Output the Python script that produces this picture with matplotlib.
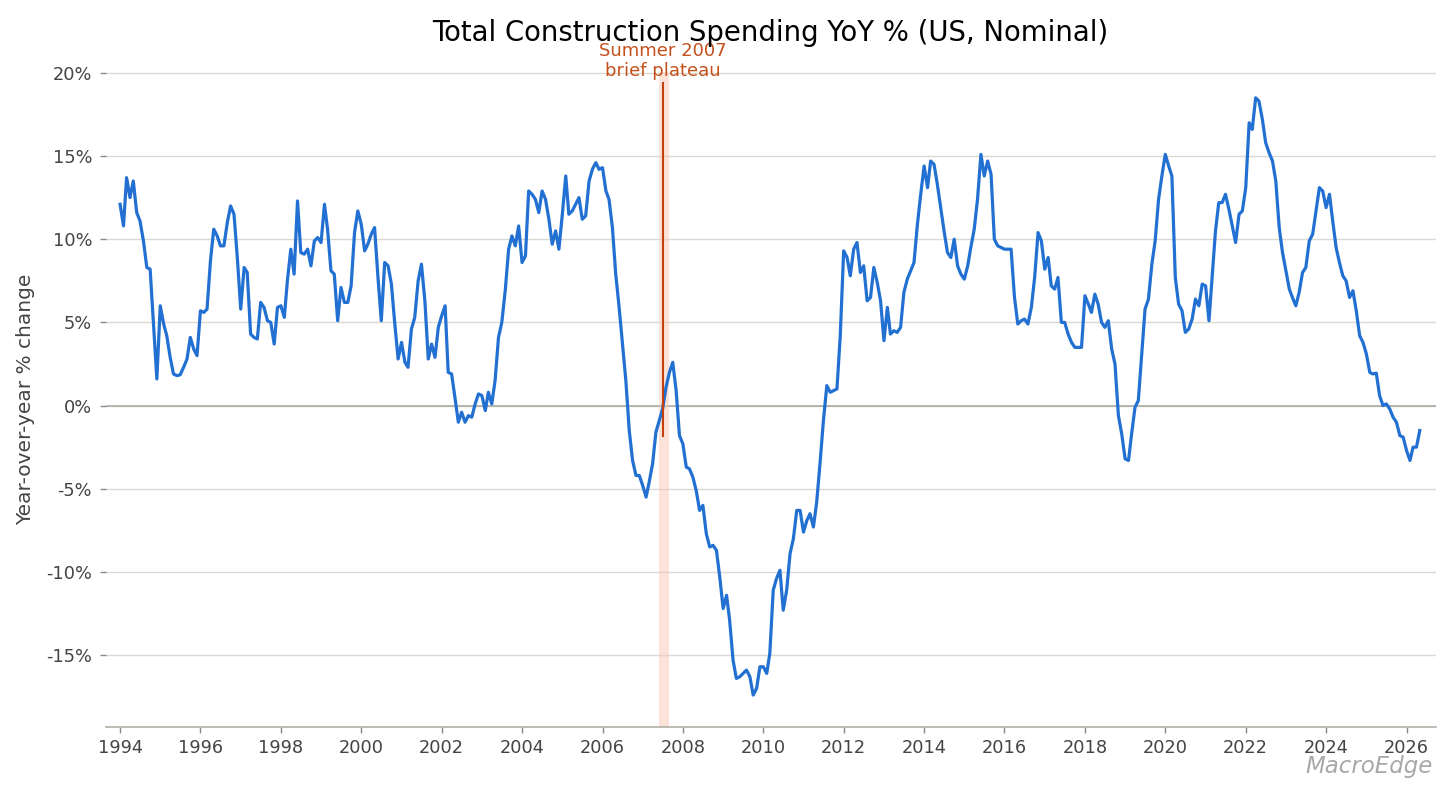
import pandas as pd
import matplotlib
matplotlib.use("Agg")
import matplotlib.pyplot as plt
from matplotlib.ticker import FuncFormatter

# monthly YoY % change, Jan 1994 .. May 2026
yoy_pct = [
    12.1, 10.8, 13.7, 12.5, 13.5, 11.6, 11.1, 9.9, 8.3, 8.2, 4.8, 1.6,        # 1994
    6.0, 4.9, 4.2, 2.9, 1.9, 1.8, 1.85, 2.3, 2.8, 4.1, 3.4, 3.0,              # 1995
    5.7, 5.6, 5.8, 8.7, 10.6, 10.2, 9.6, 9.6, 11.0, 12.0, 11.5, 8.9,          # 1996
    5.8, 8.3, 8.0, 4.3, 4.1, 4.0, 6.2, 5.9, 5.1, 5.0, 3.7, 5.9,               # 1997
    6.0, 5.3, 7.5, 9.4, 7.9, 12.3, 9.2, 9.1, 9.4, 8.4, 9.9, 10.1,             # 1998
    9.8, 12.1, 10.6, 8.1, 7.9, 5.1, 7.1, 6.2, 6.2, 7.2, 10.4, 11.7,           # 1999
    10.9, 9.3, 9.7, 10.3, 10.7, 7.7, 5.1, 8.6, 8.4, 7.3, 4.9, 2.8,            # 2000
    3.8, 2.6, 2.3, 4.6, 5.3, 7.5, 8.5, 6.3, 2.8, 3.7, 2.9, 4.7,               # 2001
    5.4, 6.0, 2.0, 1.9, 0.5, -1.0, -0.4, -1.0, -0.6, -0.7, 0.1, 0.7,          # 2002
    0.6, -0.3, 0.8, 0.1, 1.5, 4.1, 5.0, 6.9, 9.4, 10.2, 9.6, 10.8,            # 2003
    8.6, 9.0, 12.9, 12.7, 12.4, 11.6, 12.9, 12.4, 11.2, 9.7, 10.5, 9.4,       # 2004
    11.5, 13.8, 11.5, 11.7, 12.1, 12.5, 11.2, 11.4, 13.5, 14.2, 14.6, 14.2,   # 2005
    14.3, 12.9, 12.4, 10.7, 7.9, 5.9, 3.7, 1.5, -1.5, -3.3, -4.2, -4.2,       # 2006
    -4.8, -5.5, -4.6, -3.5, -1.6, -0.9, -0.2, 1.1, 2.0, 2.6, 0.9, -1.8,       # 2007
    -2.3, -3.7, -3.8, -4.3, -5.1, -6.3, -6.0, -7.7, -8.5, -8.4, -8.7, -10.3,  # 2008
    -12.2, -11.4, -12.9, -15.3, -16.4, -16.3, -16.1, -15.9, -16.3, -17.4, -17.0, -15.7,  # 2009
    -15.7, -16.1, -14.9, -11.1, -10.4, -9.9, -12.3, -11.1, -8.9, -8.0, -6.3, -6.3,     # 2010
    -7.6, -6.9, -6.5, -7.3, -5.8, -3.4, -0.9, 1.2, 0.8, 0.9, 1.0, 4.2,        # 2011
    9.3, 8.9, 7.8, 9.4, 9.8, 8.0, 8.4, 6.3, 6.5, 8.3, 7.4, 6.3,               # 2012
    3.9, 5.9, 4.3, 4.5, 4.4, 4.7, 6.8, 7.6, 8.1, 8.6, 10.9, 12.7,             # 2013
    14.4, 13.1, 14.7, 14.5, 13.3, 11.9, 10.5, 9.2, 8.9, 10.0, 8.4, 7.9,       # 2014
    7.6, 8.4, 9.5, 10.6, 12.4, 15.1, 13.8, 14.7, 13.9, 10.0, 9.6, 9.5,        # 2015
    9.4, 9.4, 9.4, 6.5, 4.9, 5.1, 5.2, 4.9, 5.9, 7.7, 10.4, 9.9,              # 2016
    8.2, 8.9, 7.2, 7.0, 7.7, 5.0, 5.0, 4.3, 3.8, 3.5, 3.5, 3.5,               # 2017
    6.6, 6.1, 5.6, 6.7, 6.1, 5.0, 4.7, 5.1, 3.4, 2.5, -0.6, -1.7,             # 2018
    -3.2, -3.3, -1.7, -0.1, 0.3, 3.1, 5.8, 6.4, 8.5, 9.9, 12.4, 13.8,         # 2019
    15.1, 14.4, 13.8, 7.7, 6.1, 5.7, 4.4, 4.6, 5.2, 6.4, 6.0, 7.3,            # 2020
    7.2, 5.1, 7.7, 10.5, 12.2, 12.2, 12.7, 11.8, 10.8, 9.8, 11.5, 11.7,       # 2021
    13.1, 17.0, 16.6, 18.5, 18.3, 17.2, 15.8, 15.2, 14.7, 13.5, 10.7, 9.2,    # 2022
    8.1, 7.0, 6.5, 6.0, 6.8, 8.0, 8.3, 9.9, 10.3, 11.7, 13.1, 12.9,           # 2023
    11.9, 12.7, 11.1, 9.5, 8.6, 7.8, 7.5, 6.5, 6.9, 5.7, 4.2, 3.8,            # 2024
    3.1, 2.0, 1.9, 1.95, 0.6, 0.0, 0.1, -0.2, -0.7, -1.0, -1.8, -1.9,         # 2025
    -2.7, -3.3, -2.5, -2.5, -1.5,                                             # 2026
]
months = pd.date_range("1994-01-01", periods=len(yoy_pct), freq="MS")

tick_years = list(range(1994, 2027, 2))
y_ticks = [-15, -10, -5, 0, 5, 10, 15, 20]

plateau_start = pd.Timestamp("2007-06-01")
plateau_end = pd.Timestamp("2007-09-01")
plateau_mark = pd.Timestamp("2007-07-01")
plateau_line = (-1.8, 19.4)
plateau_label = "Summer 2007\nbrief plateau"

title = "Total Construction Spending YoY % (US, Nominal)"
ylabel = "Year-over-year % change"
watermark = "MacroEdge"

fig = plt.figure(figsize=(14.56, 7.94), dpi=100)
ax = fig.add_axes([0.0728, 0.0848, 0.9135, 0.8245])

# grid + zero line
for v in y_ticks:
    ax.axhline(v, color="#dadad2", lw=1.0, zorder=0)
ax.axhline(0, color="#acaca4", lw=1.2, zorder=1)

# plateau highlight (label sits under the title, as in the source)
ax.axvspan(plateau_start, plateau_end, color="#f9c9b6", alpha=0.5, lw=0, zorder=1)
ax.plot([plateau_mark, plateau_mark], plateau_line, color="#c2410c", lw=1.5, zorder=4)
ax.text(plateau_mark, plateau_line[1] + 0.15, plateau_label, color="#c4501c",
        fontsize=13, ha="center", va="bottom", linespacing=1.15, zorder=5)

ax.plot(months, yoy_pct, color="#2270d2", lw=2.3, zorder=3)

ax.set_xlim(pd.Timestamp("1993-08-26"), pd.Timestamp("2026-09-26"))
ax.set_ylim(-19.3, 20.05)

ax.set_xticks([pd.Timestamp(f"{y}-01-01") for y in tick_years])
ax.set_xticklabels([str(y) for y in tick_years])
ax.set_yticks(y_ticks)
ax.yaxis.set_major_formatter(FuncFormatter(lambda v, p: f"{v:.0f}%"))

for s in ["top", "right", "left"]:
    ax.spines[s].set_visible(False)
ax.spines["bottom"].set_color("#b0b0a8")
ax.spines["bottom"].set_linewidth(1.2)

ax.tick_params(axis="both", labelsize=12.8, labelcolor="#444444", color="#888888",
               length=4, width=1)
ax.tick_params(axis="x", pad=5)
ax.tick_params(axis="y", pad=6)

ax.set_ylabel(ylabel, fontsize=14.5, color="#444444", labelpad=8)
fig.text(0.529, 0.958, title, fontsize=19.8, color="black", ha="center", va="center")

fig.text(0.984, 0.035, watermark, fontsize=16.5, color="#a8a8a8", style="italic",
         ha="right", va="center")

fig.savefig("out.png", dpi=100)
